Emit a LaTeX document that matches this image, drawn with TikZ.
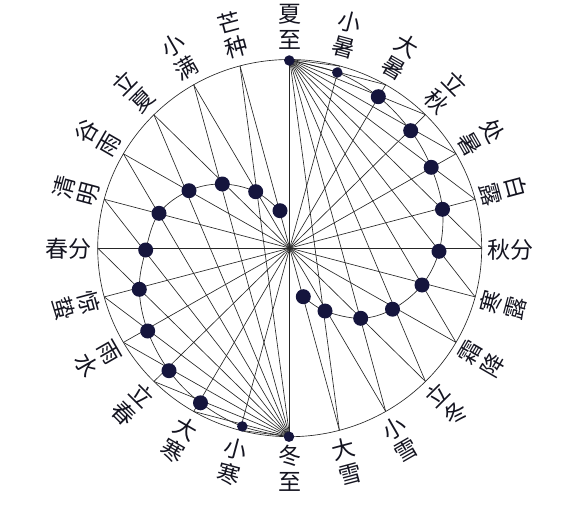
\documentclass[tikz,border=0pt]{standalone}
\usepackage{fontspec}
\newfontfamily\cjk{Noto Sans CJK SC}
\definecolor{dotc}{HTML}{15153D}
\definecolor{linec}{HTML}{262626}
\definecolor{txtc}{HTML}{141420}
\begin{document}
\begin{tikzpicture}[x=1pt,y=-1pt,
  ln/.style={draw=linec,line width=0.65pt},
  bigdot/.style={circle,fill=dotc,inner sep=0pt,minimum size=15pt},
  smalldot/.style={circle,fill=dotc,inner sep=0pt,minimum size=10.5pt},
  lbl/.style={font=\fontsize{23}{26}\selectfont\cjk,text=txtc,inner sep=0pt}]
\useasboundingbox (0,0) rectangle (571,506);
\coordinate (O) at (289.7,248.1);
\foreach \k in {0,...,23}{
  \coordinate (P\k) at ({289.7+192*sin(15*\k)},{248.1-188.6*cos(15*\k)});
}
% circle
\draw[ln] (O) ellipse [x radius=192, y radius=188.6];
% radial lines
\foreach \k in {0,...,23} \draw[ln] (O) -- (P\k);
% fan from summer solstice point
\foreach \k in {1,...,11} \draw[ln] (P0) -- (P\k);
% fan from winter solstice point
\foreach \k in {13,...,23} \draw[ln] (P12) -- (P\k);
% dot positions
\coordinate (d0) at (289.3,60.5);
\coordinate (d1) at (337.3,72.5);
\coordinate (d2) at (378.3,96.7);
\coordinate (d3) at (410.7,130.7);
\coordinate (d4) at (431.2,167.3);
\coordinate (d5) at (442.5,209.3);
\coordinate (d6) at (439,251.3);
\coordinate (d7) at (422,285);
\coordinate (d8) at (392.5,309.2);
\coordinate (d9) at (360.7,318.3);
\coordinate (d10) at (325,311);
\coordinate (d11) at (303.3,296.7);
\coordinate (d12) at (289,436.7);
\coordinate (d13) at (242.3,426.4);
\coordinate (d14) at (200.5,402.8);
\coordinate (d15) at (169,370.7);
\coordinate (d16) at (147.7,331);
\coordinate (d17) at (139.3,289.3);
\coordinate (d18) at (145.7,250);
\coordinate (d19) at (159,213.3);
\coordinate (d20) at (189,190.7);
\coordinate (d21) at (222.3,184);
\coordinate (d22) at (255.7,191.7);
\coordinate (d23) at (280,210.7);
% curves through dots
\draw[ln] plot[smooth,tension=0.6] coordinates {(d0) (d1) (d2) (d3) (d4) (d5) (d6) (d7) (d8) (d9) (d10) (d11)};
\draw[ln] plot[smooth,tension=0.6] coordinates {(d12) (d13) (d14) (d15) (d16) (d17) (d18) (d19) (d20) (d21) (d22) (d23)};
% dots
\foreach \k in {0,1,12,13} \node[smalldot] (n\k) at (d\k) {};
\foreach \k in {2,...,11,14,15,...,23} \node[bigdot] (n\k) at (d\k) {};
% labels: two characters stacked along the radius
\foreach \k/\a/\b/\r/\ra/\rb in {0/夏/至/0/234/208, 1/小/暑/-15/234/208, 2/大/暑/-30/234/208,
  3/立/秋/-45/234/208, 4/处/暑/-60/234/208, 5/白/露/-75/234/208,
  7/寒/露/75/208/234, 8/霜/降/60/208/234, 9/立/冬/45/208/234, 10/小/雪/30/208/234,
  11/大/雪/15/208/234, 12/冬/至/0/208/234, 13/小/寒/-15/208/234, 14/大/寒/-30/208/234,
  15/立/春/-45/208/234, 16/雨/水/-60/208/234, 17/惊/蛰/-75/208/234,
  19/清/明/75/234/208, 20/谷/雨/60/234/208, 21/立/夏/45/234/208,
  22/小/满/30/234/208, 23/芒/种/15/234/208}{
  \node[lbl,rotate=\r] (la\k) at ({289.7+\ra*sin(15*\k)},{248.1-\ra*cos(15*\k)}) {\a};
  \node[lbl,rotate=\r] (lb\k) at ({289.7+\rb*sin(15*\k)},{248.1-\rb*cos(15*\k)}) {\b};
}
\node[lbl] (l6) at (510.7,250) {秋分};
\node[lbl] (l18) at (68.7,249) {春分};
\end{tikzpicture}
\end{document}
